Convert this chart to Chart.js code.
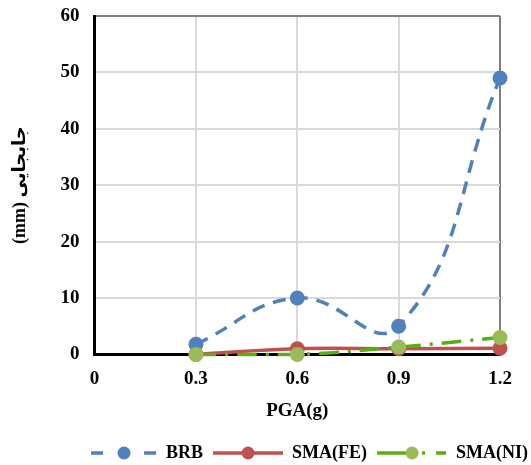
<!DOCTYPE html>
<html>
<head>
<meta charset="utf-8">
<script src="https://cdn.jsdelivr.net/npm/chart.js@4"></script>
<style>
  html, body { margin: 0; padding: 0; background: #fff; }
  #wrap { width: 531px; height: 465px; }
</style>
</head>
<body>
<div id="wrap"><canvas id="chart" width="531" height="465"></canvas></div>
<script>
// values
const pga = [0.3, 0.6, 0.9, 1.2];
const xTicks = [0, 0.3, 0.6, 0.9, 1.2];
const xTickLabels = ['0', '0.3', '0.6', '0.9', '1.2'];
const brb = [1.8, 10, 5, 49];
const smaFe = [0, 1, 1, 1.1];
const smaNi = [0, 0, 1.3, 3];
const seriesNames = ['BRB', 'SMA(FE)', 'SMA(NI)'];

const FONT = "'Liberation Serif', 'Times New Roman', 'DejaVu Sans', serif";
const BLUE = '#4F81BD';
const RED = '#C0504D';
const GREEN_LINE = '#5AAE12';
const GREEN_DOT = '#9BBB59';

function toPoints(ys) {
  return ys.map((y, i) => ({ x: pga[i], y: y }));
}

// legend icons: line sample + marker, like the Excel legend (left blank = gap between items)
function legendIcon(kind) {
  const c = document.createElement('canvas');
  c.width = 80; c.height = 16;
  const g = c.getContext('2d');
  g.lineWidth = 3.5;
  const dot = (x, col) => {
    g.fillStyle = col;
    g.beginPath(); g.arc(x, 8, 6.5, 0, Math.PI * 2); g.fill();
  };
  const seg = (a, b, col) => {
    g.strokeStyle = col;
    g.beginPath(); g.moveTo(a, 8); g.lineTo(b, 8); g.stroke();
  };
  if (kind === 0) {
    seg(14, 26, BLUE); seg(67, 79, BLUE); dot(47, BLUE);
  } else if (kind === 1) {
    seg(10, 80, RED); dot(45, RED);
  } else {
    seg(10, 42, GREEN_LINE); seg(55, 58, GREEN_LINE); seg(69, 79, GREEN_LINE);
    dot(45, GREEN_DOT);
  }
  return c;
}
const icons = [legendIcon(0), legendIcon(1), legendIcon(2)];

const ctx = document.getElementById('chart').getContext('2d');
new Chart(ctx, {
  type: 'line',
  data: {
    datasets: [
      {
        label: seriesNames[0],
        data: toPoints(brb),
        borderColor: BLUE,
        backgroundColor: BLUE,
        borderWidth: 3.5,
        borderDash: [13, 9],
        pointRadius: 7.5,
        pointBorderWidth: 0,
        pointBackgroundColor: BLUE,
        tension: 0.45,
        order: 3,
        clip: false
      },
      {
        label: seriesNames[1],
        data: toPoints(smaFe),
        borderColor: RED,
        backgroundColor: RED,
        borderWidth: 3.5,
        pointRadius: 7.5,
        pointBorderWidth: 0,
        pointBackgroundColor: RED,
        tension: 0.4,
        order: 2,
        clip: false
      },
      {
        label: seriesNames[2],
        data: toPoints(smaNi),
        borderColor: GREEN_LINE,
        backgroundColor: GREEN_DOT,
        borderWidth: 3.5,
        borderDash: [20, 9, 3, 9],
        pointRadius: 7.5,
        pointBorderWidth: 0,
        pointBackgroundColor: GREEN_DOT,
        tension: 0.4,
        order: 1,
        clip: false
      }
    ]
  },
  options: {
    responsive: false,
    animation: false,
    layout: { padding: { left: 6, right: 3, top: 16, bottom: -7 } },
    plugins: {
      tooltip: { enabled: false },
      legend: {
        position: 'bottom',
        align: 'end',
        labels: {
          usePointStyle: true,
          pointStyleWidth: 80,
          padding: 0,
          color: '#000',
          font: { family: FONT, size: 18, weight: 'bold' },
          generateLabels: (chart) => chart.data.datasets.map((ds, i) => ({
            text: ds.label,
            pointStyle: icons[i],
            datasetIndex: i,
            hidden: false,
            fillStyle: 'rgba(0,0,0,0)',
            strokeStyle: 'rgba(0,0,0,0)',
            lineWidth: 0,
            fontColor: '#000'
          }))
        }
      }
    },
    scales: {
      x: {
        type: 'linear',
        min: 0,
        max: 1.2,
        afterBuildTicks: (scale) => { scale.ticks = xTicks.map(v => ({ value: v })); },
        afterFit: (scale) => { scale.paddingRight = 31; },
        ticks: {
          color: '#000',
          padding: 13,
          maxRotation: 0,
          font: { family: FONT, size: 19, weight: 'bold' },
          callback: (v, i) => xTickLabels[i]
        },
        grid: {
          drawTicks: false,
          color: (c) => (c.tick && c.tick.value === 1.2) ? '#808080' : '#D9D9D9',
          lineWidth: 2
        },
        border: { color: '#000', width: 3 },
        title: {
          display: true,
          text: 'PGA(g)',
          color: '#000',
          font: { family: FONT, size: 19, weight: 'bold' },
          padding: { top: -4, bottom: 22 }
        }
      },
      y: {
        min: 0,
        max: 60,
        afterFit: (scale) => { scale.paddingTop = 0; },
        ticks: {
          stepSize: 10,
          color: '#000',
          padding: 15,
          font: { family: FONT, size: 19, weight: 'bold' }
        },
        grid: {
          drawTicks: false,
          color: (c) => (c.tick && c.tick.value === 60) ? '#808080' : '#D9D9D9',
          lineWidth: 2
        },
        border: { color: '#000', width: 3 },
        title: {
          display: true,
          text: '(mm) جابجایی',
          color: '#000',
          font: { family: FONT, size: 18, weight: 'bold' },
          padding: { top: 4, bottom: 14 }
        }
      }
    }
  }
});
</script>
</body>
</html>
